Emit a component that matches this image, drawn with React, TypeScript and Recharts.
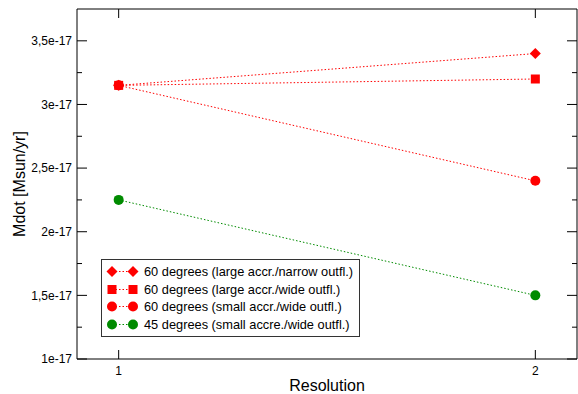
import React from 'react';
import { LineChart, Line, XAxis, YAxis, Legend, Label } from 'recharts';

// values in units of 1e-17 Msun/yr
const resolution = [1, 2];
const narrow60 = [3.15, 3.4];
const wide60 = [3.15, 3.2];
const small60 = [3.15, 2.4];
const small45 = [2.25, 1.5];

const xTicks = [1, 2];
const yMajor = [1, 1.5, 2, 2.5, 3, 3.5];
const yMinor = [1.25, 1.75, 2.25, 2.75, 3.25];

const legendLabels = [
  '60 degrees (large accr./narrow outfl.)',
  '60 degrees (large accr./wide outfl.)',
  '60 degrees (small accr./wide outfl.)',
  '45 degrees (small accre./wide outfl.)',
];

const RED = '#ff0000';
const GREEN = '#008b00';
// no serif face in the sandbox, Liberation Sans is the closest width match
const FONT = 'Liberation Sans, Arial, sans-serif';

const data = resolution.map((r, i) => ({
  res: r,
  narrow60: narrow60[i],
  wide60: wide60[i],
  small60: small60[i],
  small45: small45[i],
}));

const fmt = (v: number) => `${String(v).replace('.', ',')}e-17`;

type Shape = 'diamond' | 'square' | 'circle';

const Marker = ({ cx, cy, shape, color }: { cx: number; cy: number; shape: Shape; color: string }) => {
  if (shape === 'diamond') {
    const s = 5.5;
    return <path d={`M${cx},${cy - s}L${cx + s},${cy}L${cx},${cy + s}L${cx - s},${cy}Z`} fill={color} />;
  }
  if (shape === 'square') {
    return <rect x={cx - 4.5} y={cy - 4.5} width={9} height={9} fill={color} />;
  }
  return <circle cx={cx} cy={cy} r={5} fill={color} />;
};

const dotFor = (shape: Shape, color: string) => (props: any) => (
  <Marker key={`${shape}-${color}-${props.index}`} cx={props.cx} cy={props.cy} shape={shape} color={color} />
);

const LeftTick = (props: any) => {
  const { x, y, payload } = props;
  const major = yMajor.includes(payload.value);
  const ax = x + 5;
  return (
    <g>
      <line x1={ax} x2={ax + (major ? 10 : 5)} y1={y} y2={y} stroke="#000" />
      {major && (
        <text x={x} y={y} dy="0.35em" textAnchor="end" fontSize={12} fontFamily={FONT} fill="#000">
          {fmt(payload.value)}
        </text>
      )}
    </g>
  );
};

const RightTick = (props: any) => {
  const { x, y, payload } = props;
  const major = yMajor.includes(payload.value);
  return <line x1={x} x2={x - (major ? 10 : 5)} y1={y} y2={y} stroke="#000" />;
};

const BottomTick = (props: any) => {
  const { x, y, payload } = props;
  const ay = y - 7;
  return (
    <g>
      <line x1={x} x2={x} y1={ay} y2={ay - 9} stroke="#000" />
      <text x={x} y={y} dy="0.71em" textAnchor="middle" fontSize={12} fontFamily={FONT} fill="#000">
        {payload.value}
      </text>
    </g>
  );
};

const TopTick = (props: any) => {
  const { x, y } = props;
  return <line x1={x} x2={x} y1={y} y2={y + 9} stroke="#000" />;
};

const series: { key: string; shape: Shape; color: string }[] = [
  { key: 'narrow60', shape: 'diamond', color: RED },
  { key: 'wide60', shape: 'square', color: RED },
  { key: 'small60', shape: 'circle', color: RED },
  { key: 'small45', shape: 'circle', color: GREEN },
];

const LegendBox = () => (
  <div
    style={{
      border: '1px solid #333',
      background: '#fff',
      padding: '3px 6px 3px 4px',
      fontFamily: FONT,
      fontSize: 12.8,
      lineHeight: '17.5px',
      color: '#000',
      whiteSpace: 'nowrap',
    }}
  >
    {series.map((s, i) => (
      <div key={s.key} style={{ display: 'flex', alignItems: 'center' }}>
        <svg width={36} height={17} style={{ marginRight: 2 }}>
          <line x1={6} x2={27} y1={8.5} y2={8.5} stroke={s.color} strokeDasharray="1.5 2" />
          <Marker cx={6} cy={8.5} shape={s.shape} color={s.color} />
          <Marker cx={27} cy={8.5} shape={s.shape} color={s.color} />
        </svg>
        <span>{legendLabels[i]}</span>
      </div>
    ))}
  </div>
);

const drawOrder = ['small60', 'narrow60', 'small45', 'wide60'];

export default function App() {
  return (
    <div style={{ position: 'absolute', left: 0, top: 0, width: 578, height: 394, background: '#fff' }}>
      <LineChart width={578} height={394} data={data} margin={{ top: 0, right: 0, bottom: 0, left: 0 }}>
        <XAxis
          dataKey="res"
          type="number"
          domain={[0.9, 2.1]}
          ticks={xTicks}
          allowDataOverflow
          height={35}
          tickSize={0}
          tickMargin={7}
          tickLine={false}
          axisLine={{ stroke: '#000' }}
          tick={BottomTick}
        >
          <Label
            content={({ viewBox }: any) => (
              <text
                x={viewBox.x + viewBox.width / 2}
                y={viewBox.y + 32}
                textAnchor="middle"
                fontSize={16}
                fontFamily={FONT}
                fill="#000"
              >
                Resolution
              </text>
            )}
          />
        </XAxis>
        <XAxis
          xAxisId="top"
          dataKey="res"
          type="number"
          orientation="top"
          domain={[0.9, 2.1]}
          ticks={xTicks}
          allowDataOverflow
          height={9}
          tickSize={0}
          tickMargin={0}
          tickLine={false}
          axisLine={{ stroke: '#000' }}
          tick={TopTick}
        />
        <YAxis
          type="number"
          domain={[1, 3.75]}
          ticks={[...yMajor, ...yMinor]}
          allowDataOverflow
          width={77}
          tickSize={0}
          tickMargin={5}
          tickLine={false}
          axisLine={{ stroke: '#000' }}
          tick={LeftTick}
          interval={0}
        >
          <Label
            content={({ viewBox }: any) => {
              const cx = 19;
              const cy = viewBox.y + viewBox.height / 2;
              return (
                <text
                  x={cx}
                  y={cy}
                  transform={`rotate(-90 ${cx} ${cy})`}
                  textAnchor="middle"
                  dominantBaseline="central"
                  fontSize={16}
                  fontFamily={FONT}
                  fill="#000"
                >
                  Mdot [Msun/yr]
                </text>
              );
            }}
          />
        </YAxis>
        <YAxis
          yAxisId="right"
          orientation="right"
          type="number"
          domain={[1, 3.75]}
          ticks={[...yMajor, ...yMinor]}
          allowDataOverflow
          width={1}
          tickSize={0}
          tickMargin={0}
          tickLine={false}
          axisLine={{ stroke: '#000' }}
          tick={RightTick}
          interval={0}
        />
        {drawOrder.map((k) => {
          const s = series.find((x) => x.key === k)!;
          return (
            <Line
              key={k}
              dataKey={k}
              stroke={s.color}
              strokeWidth={1}
              strokeDasharray="1.5 2"
              dot={dotFor(s.shape, s.color)}
              activeDot={false}
              isAnimationActive={false}
            />
          );
        })}
        <Legend
          layout="horizontal"
          verticalAlign="middle"
          align="center"
          content={() => <LegendBox />}
          wrapperStyle={{ position: 'absolute', left: 101, top: 259, width: 'auto' }}
        />
      </LineChart>
    </div>
  );
}
